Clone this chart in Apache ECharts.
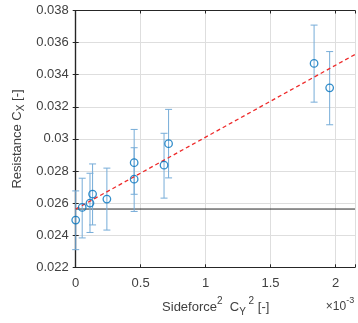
<!DOCTYPE html>
<html><head><meta charset="utf-8">
<script src="https://cdn.jsdelivr.net/npm/echarts@6/dist/echarts.min.js"></script>
<style>html,body{margin:0;padding:0;background:#fff}#c{width:358px;height:323px}</style>
</head><body><div id="c"></div>
<script>
// x values in units of 1e-3
const xVals  = [0, 0.05, 0.11, 0.13, 0.24, 0.45, 0.45, 0.68, 0.715, 1.835, 1.955];
const yVals  = [0.02494, 0.02573, 0.02600, 0.02656, 0.02625, 0.02852, 0.02749, 0.02836, 0.02970, 0.03470, 0.03318];
const yUpper = [0.02676, 0.02755, 0.02786, 0.02844, 0.02818, 0.03059, 0.02945, 0.03035, 0.03184, 0.03709, 0.03544];
const yLower = [0.02310, 0.02383, 0.02417, 0.02464, 0.02432, 0.02655, 0.02548, 0.02631, 0.02757, 0.03229, 0.03088];
const fitX = [0, 2.15];
const fitY = [0.02563, 0.03526];
const baseline = 0.02563;
const xTicks = [0, 0.5, 1, 1.5, 2];
const yTicks = [0.022, 0.024, 0.026, 0.028, 0.03, 0.032, 0.034, 0.036, 0.038];

const FONT = 'Liberation Sans, Arial, sans-serif';
const TXT = '#404040';
const BOX = '#262626';
const GRIDC = '#dedede';

const chart = echarts.init(document.getElementById('c'), null, {renderer: 'canvas'});
const ctx = document.createElement('canvas').getContext('2d');
function tw(s, size){ ctx.font = size + 'px ' + FONT; return ctx.measureText(s).width; }

// composite label pieces: [text, size, dy]
function pieces(parts, cx, cy, rotate){
  let total = 0; parts.forEach(p => total += tw(p[0], p[1]));
  let x = -total / 2;
  const children = parts.map(p => {
    const el = {type: 'text', x: x, y: p[2], style: {text: p[0], font: p[1] + 'px ' + FONT, fill: TXT, textVerticalAlign: 'middle', textAlign: 'left'}};
    x += tw(p[0], p[1]);
    return el;
  });
  return {type: 'group', x: cx, y: cy, rotation: rotate, children: children};
}

const pts = xVals.map((x, i) => [x, yVals[i]]);
const err = xVals.map((x, i) => [x, yLower[i], yUpper[i]]);

const axisCommon = {
  type: 'value', min: 0, max: 2.15, interval: 0.5,
  axisLine: {show: true, lineStyle: {color: BOX, width: 1.2}},
  axisTick: {show: true, inside: true, length: 3, lineStyle: {color: BOX}},
  splitLine: {show: false}
};

chart.setOption({
  animation: false,
  backgroundColor: '#fff',
  grid: {left: 75.7, right: 2, top: 10.5, bottom: 55.7, containLabel: false},
  xAxis: [
    Object.assign({}, axisCommon, {position: 'bottom',
      axisLabel: {show: true, color: TXT, fontSize: 13, fontFamily: FONT, margin: 10,
        formatter: v => xTicks.indexOf(+v.toFixed(2)) >= 0 ? String(+v.toFixed(2)) : ''},
      splitLine: {show: true, lineStyle: {color: GRIDC, width: 1}}}),
    Object.assign({}, axisCommon, {position: 'top', axisLabel: {show: false}})
  ],
  yAxis: [
    {type: 'value', min: 0.022, max: 0.038, interval: 0.002, position: 'left',
      axisLine: {show: true, lineStyle: {color: BOX, width: 1.2}},
      axisTick: {show: true, inside: true, length: 3, lineStyle: {color: BOX}},
      axisLabel: {color: TXT, fontSize: 13, fontFamily: FONT, margin: 7,
        formatter: v => String(+v.toFixed(3))},
      splitLine: {show: true, lineStyle: {color: GRIDC, width: 1}}},
    {type: 'value', min: 0.022, max: 0.038, interval: 0.002, position: 'right',
      axisLine: {show: true, lineStyle: {color: BOX, width: 1.2}},
      axisTick: {show: true, inside: true, length: 3, lineStyle: {color: BOX}},
      axisLabel: {show: false}, splitLine: {show: false}}
  ],
  series: [
    {type: 'line', data: [[0, baseline], [2.15, baseline]], symbol: 'none', silent: true,
      lineStyle: {color: BOX, width: 1}, z: 2},
    {type: 'custom', data: err, z: 3, silent: true,
      renderItem: function(params, api){
        const x = api.value(0);
        const lo = api.coord([x, api.value(1)]);
        const hi = api.coord([x, api.value(2)]);
        const c = 3.5;
        const st = {stroke: '#76acd8', lineWidth: 1};
        return {type: 'group', children: [
          {type: 'line', shape: {x1: lo[0], y1: lo[1], x2: hi[0], y2: hi[1]}, style: st},
          {type: 'line', shape: {x1: lo[0]-c, y1: lo[1], x2: lo[0]+c, y2: lo[1]}, style: st},
          {type: 'line', shape: {x1: hi[0]-c, y1: hi[1], x2: hi[0]+c, y2: hi[1]}, style: st}
        ]};
      }},
    {type: 'line', data: fitX.map((x, i) => [x, fitY[i]]), symbol: 'none', silent: true, z: 4,
      lineStyle: {color: '#ee2a2a', width: 1.3, type: [4, 3]}},
    {type: 'scatter', data: pts, symbol: 'circle', symbolSize: 7.5, z: 5, silent: true,
      itemStyle: {color: 'rgba(255,255,255,0)', borderColor: '#0072BD', borderWidth: 1.3}}
  ],
  graphic: [
    pieces([['Sideforce', 13, 0], ['2', 10, -6], ['  C', 13, 0], ['Y', 10, 5], [' 2', 10, -6], [' [-]', 13, 0]], 215.7, 307, 0),
    pieces([['Resistance C', 13, 0], ['X', 10, 4], [' [-]', 13, 0]], 17, 139, Math.PI / 2),
    pieces([['\u00d710', 12, 0], ['-3', 9, -6]], 340, 306.5, 0)
  ]
});
</script></body></html>
